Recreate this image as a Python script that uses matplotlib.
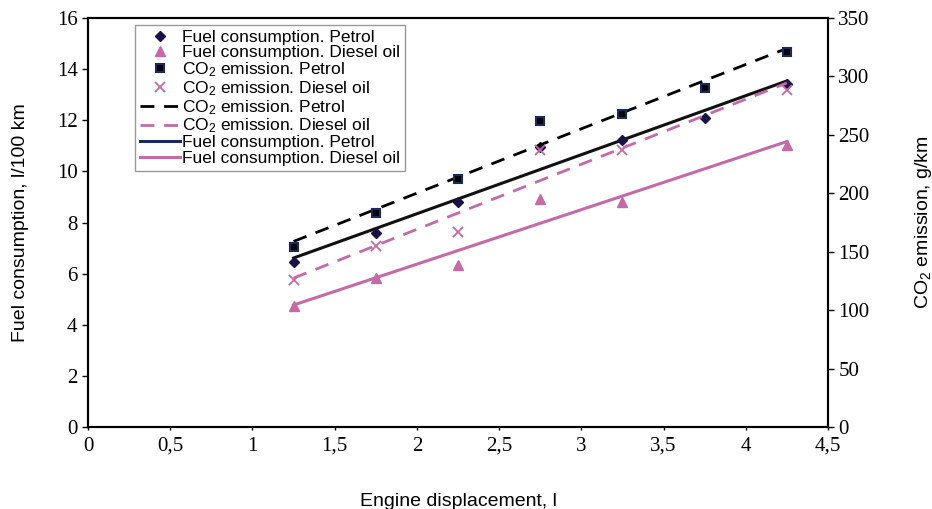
import numpy as np
import matplotlib
matplotlib.use("Agg")
import matplotlib.pyplot as plt
from matplotlib.lines import Line2D

plt.rcParams["mathtext.fontset"] = "custom"
plt.rcParams["mathtext.rm"] = "Liberation Sans"
plt.rcParams["mathtext.it"] = "Liberation Sans:italic"
plt.rcParams["mathtext.bf"] = "Liberation Sans:bold"

x_all = [1.25, 1.75, 2.25, 2.75, 3.25, 3.75, 4.25]
fuel_petrol = [6.44, 7.60, 8.79, 10.97, 11.23, 12.09, 13.41]
x_diesel = [1.25, 1.75, 2.25, 2.75, 3.25, 4.25]
fuel_diesel = [4.75, 5.84, 6.34, 8.91, 8.82, 11.03]
co2_petrol = [154, 183, 212, 262, 268, 290, 321]
co2_diesel = [126, 155, 167, 237, 237, 288]

x_ticks = [0, 0.5, 1, 1.5, 2, 2.5, 3, 3.5, 4, 4.5]
x_tick_labels = ["0", "0,5", "1", "1,5", "2", "2,5", "3", "3,5", "4", "4,5"]

c_navy = "#1b2a5e"
c_dark = "#1a1046"
c_pink = "#c46aa6"

serif = "Liberation Serif"
sans = "Liberation Sans"

fig = plt.figure(figsize=(9.32, 5.09), dpi=100)
ax = fig.add_axes([0.0944, 0.161, 0.7940, 0.8036])
ax2 = ax.twinx()

def trend(x, y):
    p = np.polyfit(x, y, 1)
    xs = np.array([min(x), max(x)])
    return xs, np.polyval(p, xs)

# trend lines
xs, ys = trend(x_all, co2_petrol)
ax2.plot(xs, ys, color="black", lw=2, ls=(0, (5, 3.5)), zorder=2)
xs, ys = trend(x_diesel, co2_diesel)
ax2.plot(xs, ys, color=c_pink, lw=2, ls=(0, (5, 3.5)), zorder=2)
xs, ys = trend(x_all, fuel_petrol)
ax.plot(xs, ys, color="#111111", lw=2.2, zorder=2)
xs, ys = trend(x_diesel, fuel_diesel)
ax.plot(xs, ys, color=c_pink, lw=2.2, zorder=2)

# markers
ax.plot(x_all, fuel_petrol, ls="none", marker="D", ms=5, color=c_dark, zorder=3)
ax.plot(x_diesel, fuel_diesel, ls="none", marker="^", ms=7, color=c_pink, zorder=3)
ax2.plot(x_all, co2_petrol, ls="none", marker="s", ms=6, mfc="black", mec=c_navy, mew=1.5, zorder=3)
ax2.plot(x_diesel, co2_diesel, ls="none", marker="x", ms=7, mew=1.3, color=c_pink, zorder=3)

ax.set_xlim(0, 4.5)
ax.set_ylim(0, 16)
ax2.set_ylim(0, 350)
ax.set_xticks(x_ticks)
ax.set_xticklabels(x_tick_labels)
ax.set_yticks(range(0, 17, 2))
ax2.set_yticks(range(0, 351, 50))

for a in (ax, ax2):
    for s in a.spines.values():
        s.set_linewidth(1.5)
    a.tick_params(labelsize=15, length=4, width=1)
    for lab in a.get_xticklabels() + a.get_yticklabels():
        lab.set_fontfamily(serif)
ax.tick_params(axis="x", pad=5, length=2)

ax.set_xlabel("Engine displacement, l", fontfamily=sans, fontsize=14, labelpad=27)
ax.set_ylabel("Fuel consumption, l/100 km", fontfamily=sans, fontsize=14, labelpad=20)
ax2.set_ylabel("CO$_2$ emission, g/km", fontfamily=sans, fontsize=14, labelpad=31)

handles = [
    Line2D([], [], ls="none", marker="D", ms=5, color=c_dark),
    Line2D([], [], ls="none", marker="^", ms=7, color=c_pink),
    Line2D([], [], ls="none", marker="s", ms=6, mfc="black", mec=c_navy, mew=1.5),
    Line2D([], [], ls="none", marker="x", ms=7, mew=1.3, color=c_pink),
    Line2D([], [], color="black", lw=2, ls=(0, (5, 3.5))),
    Line2D([], [], color=c_pink, lw=2, ls=(0, (5, 3.5))),
    Line2D([], [], color=c_navy, lw=2.2),
    Line2D([], [], color=c_pink, lw=2.2),
]
labels = [
    "Fuel consumption. Petrol",
    "Fuel consumption. Diesel oil",
    "CO$_2$ emission. Petrol",
    "CO$_2$ emission. Diesel oil",
    "CO$_2$ emission. Petrol",
    "CO$_2$ emission. Diesel oil",
    "Fuel consumption. Petrol",
    "Fuel consumption. Diesel oil",
]
leg = ax2.legend(handles, labels, loc="upper left", bbox_to_anchor=(0.0635, 0.983),
                 prop={"family": sans, "size": 12.5}, labelspacing=0.0,
                 handlelength=2.3, handletextpad=0.1, borderpad=0.3,
                 borderaxespad=0, frameon=True, fancybox=False,
                 edgecolor="#999999", framealpha=1)
leg.get_frame().set_linewidth(1.0)

fig.savefig("out.png", dpi=100)
